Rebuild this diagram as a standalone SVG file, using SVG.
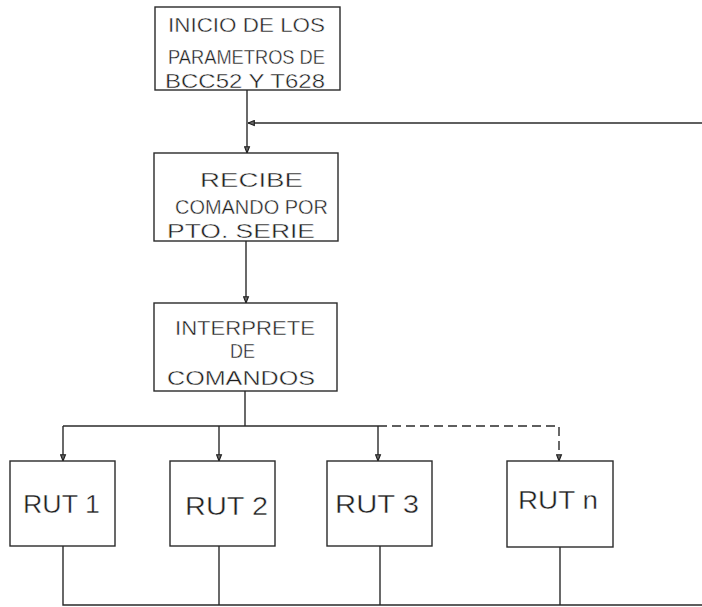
<svg xmlns="http://www.w3.org/2000/svg" width="702" height="607" viewBox="0 0 702 607">
<style>
.box{fill:#fff;stroke:#2a2a2a;stroke-width:1.4}
.ln{fill:none;stroke:#2a2a2a;stroke-width:1.4}
.dash{fill:none;stroke:#2a2a2a;stroke-width:1.4;stroke-dasharray:9,5}
.t{font-family:"Liberation Sans",Arial,sans-serif;font-size:21px;fill:#1e1e1e;stroke:#fff;stroke-width:0.4}
.s{font-size:20px}
.r{font-family:"Liberation Sans",Arial,sans-serif;font-size:25px;fill:#1e1e1e;stroke:#fff;stroke-width:0.4}
</style>
<defs>
<marker id="ah" viewBox="0 0 10 10" refX="10" refY="5" markerWidth="7" markerHeight="7" markerUnits="userSpaceOnUse" orient="auto">
<path d="M1,1.5 L10,5 L1,8.5 Z" fill="#666" stroke="#1e1e1e" stroke-width="1.6"/>
</marker>
</defs>
<rect width="702" height="607" fill="#fff"/>
<g id="connectors">
<path class="ln" d="M247,90 V153" marker-end="url(#ah)"/>
<path class="ln" d="M702,123 H248" marker-end="url(#ah)"/>
<path class="ln" d="M246,241 V303" marker-end="url(#ah)"/>
<path class="ln" d="M245,391 V426"/>
<path class="ln" d="M63,426 H378"/>
<path class="ln" d="M63,426 V461" marker-end="url(#ah)"/>
<path class="ln" d="M219,426 V461" marker-end="url(#ah)"/>
<path class="ln" d="M378,426 V461" marker-end="url(#ah)"/>
<path class="dash" d="M378,426 H559 V461" marker-end="url(#ah)"/>
<path class="ln" d="M63,546 V605 H702"/>
<path class="ln" d="M219,546 V605"/>
<path class="ln" d="M380,546 V605"/>
<path class="ln" d="M560,547 V605"/>
</g>
<g id="inicio">
<rect class="box" x="155" y="7" width="185" height="83"/>
<text class="t" x="168" y="32" textLength="157" lengthAdjust="spacingAndGlyphs">INICIO DE LOS</text>
<text class="t" x="168" y="64" textLength="157" lengthAdjust="spacingAndGlyphs">PARAMETROS DE</text>
<text class="t" x="165" y="88" textLength="160" lengthAdjust="spacingAndGlyphs">BCC52 Y T628</text>
</g>
<g id="recibe">
<rect class="box" x="154" y="153" width="184" height="88"/>
<text class="t" x="200" y="187" textLength="103" lengthAdjust="spacingAndGlyphs">RECIBE</text>
<text class="t" x="175" y="214" textLength="153" lengthAdjust="spacingAndGlyphs">COMANDO POR</text>
<text class="t" x="167" y="238" textLength="148" lengthAdjust="spacingAndGlyphs">PTO. SERIE</text>
</g>
<g id="interprete">
<rect class="box" x="154" y="303" width="183" height="88"/>
<text class="t s" x="175" y="335" textLength="140" lengthAdjust="spacingAndGlyphs">INTERPRETE</text>
<text class="t s" x="230" y="358" textLength="25" lengthAdjust="spacingAndGlyphs">DE</text>
<text class="t" x="167" y="385" textLength="148" lengthAdjust="spacingAndGlyphs">COMANDOS</text>
</g>
<g id="rut1">
<rect class="box" x="10" y="461" width="105" height="85"/>
<text class="r" x="23" y="513" textLength="77" lengthAdjust="spacingAndGlyphs">RUT  1</text>
</g>
<g id="rut2">
<rect class="box" x="170" y="461" width="105" height="85"/>
<text class="r" x="185" y="515" textLength="83" lengthAdjust="spacingAndGlyphs">RUT  2</text>
</g>
<g id="rut3">
<rect class="box" x="327" y="461" width="105" height="85"/>
<text class="r" x="335" y="513" textLength="84" lengthAdjust="spacingAndGlyphs">RUT  3</text>
</g>
<g id="rutn">
<rect class="box" x="507" y="461" width="106" height="86"/>
<text class="r" x="518" y="509" textLength="80" lengthAdjust="spacingAndGlyphs">RUT  n</text>
</g>
</svg>
